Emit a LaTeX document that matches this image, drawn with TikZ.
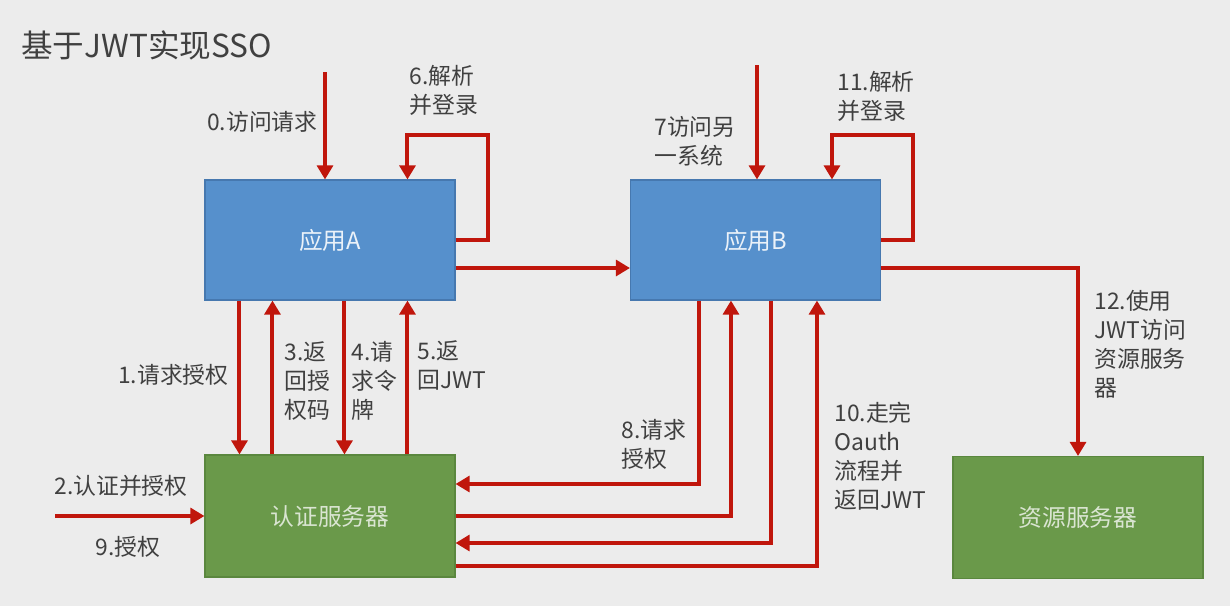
\documentclass[tikz,border=0pt]{standalone}
\usepackage{fontspec}
\setmainfont{Noto Sans CJK SC}
\usepackage{tikz}
\usetikzlibrary{arrows.meta, positioning, calc}
\definecolor{bggray}{RGB}{236,236,236}
\definecolor{txtgray}{RGB}{64,64,64}
\definecolor{appblue}{RGB}{86,144,204}
\definecolor{appblueline}{RGB}{70,120,175}
\definecolor{srvgreen}{RGB}{106,153,74}
\definecolor{srvgreenline}{RGB}{90,135,62}
\definecolor{arrred}{RGB}{192,22,12}

\begin{document}
\begin{tikzpicture}[
  x=0.02cm, y=-0.02cm,
  >={Triangle[length=8pt, width=9pt]},
  arr/.style={->, draw=arrred, line width=2.3pt},
  appbox/.style={draw=appblueline, fill=appblue, line width=0.6pt,
    minimum width=250*0.02cm, minimum height=120*0.02cm,
    text=white!88!appblue, font=\fontsize{13.5}{16}\selectfont},
  srvbox/.style={draw=srvgreenline, fill=srvgreen, line width=0.6pt,
    minimum width=250*0.02cm, minimum height=122*0.02cm,
    text=white!75!srvgreen, font=\fontsize{13.5}{16}\selectfont},
  lbl/.style={text=txtgray, align=left, inner sep=0pt,
    font=\fontsize{13}{16.5}\selectfont}
]
\fill[bggray] (0,0) rectangle (1230,606);
\useasboundingbox (0,0) rectangle (1230,606);

\node[text=txtgray, anchor=west, inner sep=0pt, font=\fontsize{18}{20}\selectfont] (title) at (21,45) {基于JWT实现SSO};

% boxes
\node[appbox] (appA) at (330,240) {应用A};
\node[appbox] (appB) at (755.5,240) {应用B};
\node[srvbox] (auth) at (330,516) {认证服务器};
\node[srvbox] (res) at (1078,517.5) {资源服务器};

% free ends
\coordinate (in0) at (325,72);
\coordinate (in7) at (757,65);
\coordinate (in2) at (55,516);

% app A
\draw[arr] (in0) -- (in0 |- appA.north);
\draw[arr] (appA.east) -- ++(32,0) -- ++(0,-105) -| ($(appA.north west)+(203,0)$);
\draw[arr] ($(appA.east)+(0,28)$) -- ($(appB.west)+(0,28)$);
\draw[arr] ($(appA.south west)+(35,0)$) -- ($(auth.north west)+(35,0)$);
\draw[arr] ($(auth.north west)+(68,0)$) -- ($(appA.south west)+(68,0)$);
\draw[arr] ($(appA.south west)+(140,0)$) -- ($(auth.north west)+(140,0)$);
\draw[arr] ($(auth.north west)+(203,0)$) -- ($(appA.south west)+(203,0)$);
\draw[arr] (in2) -- (auth.west);

% app B
\draw[arr] (in7) -- (in7 |- appB.north);
\draw[arr] (appB.east) -- ++(32,0) -- ++(0,-105) -| ($(appB.north west)+(202,0)$);
\draw[arr] ($(appB.south west)+(69,0)$) |- ($(auth.east)+(0,-32)$);
\draw[arr] (auth.east) -| ($(appB.south west)+(101,0)$);
\draw[arr] ($(appB.south west)+(141,0)$) |- ($(auth.east)+(0,27)$);
\draw[arr] ($(auth.east)+(0,50)$) -| ($(appB.south west)+(187,0)$);
\draw[arr] ($(appB.east)+(0,28)$) -| (res.north);

% labels
\node[lbl, anchor=east] (l0) at (318,122) {0.访问请求};
\node[lbl, anchor=west] (l6) at (409,90) {6.解析\\并登录};
\node[lbl, anchor=east] (l1) at (229,375) {1.请求授权};
\node[lbl, anchor=west] (l3) at (284,381) {3.返\\回授\\权码};
\node[lbl, anchor=west] (l4) at (351,381) {4.请\\求令\\牌};
\node[lbl, anchor=west] (l5) at (417,365) {5.返\\回JWT};
\node[lbl, anchor=west] (l2) at (54,486) {2.认证并授权};
\node[lbl, anchor=west] (l9) at (95,547) {9.授权};
\node[lbl, anchor=west] (l7) at (654,141) {7访问另\\一系统};
\node[lbl, anchor=west] (l11) at (837,96) {11.解析\\并登录};
\node[lbl, anchor=west] (l8) at (621,444) {8.请求\\授权};
\node[lbl, anchor=west] (l10) at (834,456) {10.走完\\Oauth\\流程并\\返回JWT};
\node[lbl, anchor=west] (l12) at (1094,344) {12.使用\\JWT访问\\资源服务\\器};
\end{tikzpicture}
\end{document}
